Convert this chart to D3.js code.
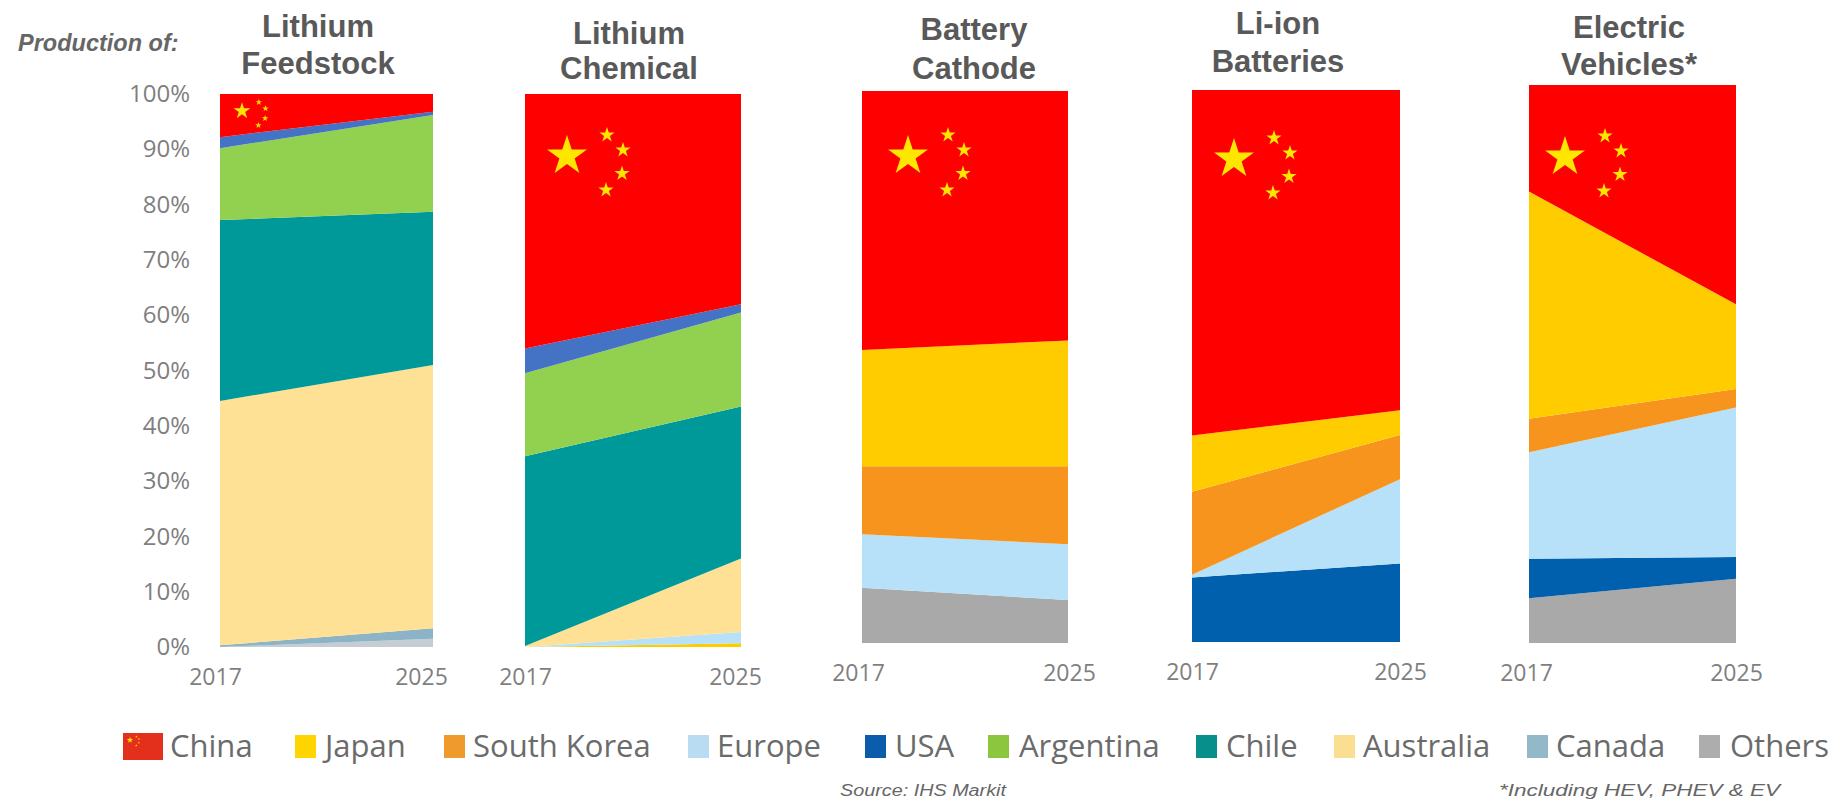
<!DOCTYPE html>
<html>
<head>
<meta charset="utf-8">
<title>Production share by country</title>
<script src="https://cdn.jsdelivr.net/npm/d3@7"></script>
<style>
  html, body { margin: 0; padding: 0; background: #fff; }
  svg { display: block; }
  text { font-family: "Open Sans", sans-serif; }
  .panel-title { font-family: "Liberation Sans", Arial, sans-serif; font-weight: 700; font-size: 31px; fill: #595959; text-anchor: middle; }
  .axis text { font-size: 23px; fill: #7f7f7f; }
  .axis.percent text { font-size: 24px; }
  .legend-label { font-size: 31px; fill: #6b6b6b; }
  .note { font-family: "Liberation Sans", Arial, sans-serif; font-style: italic; fill: #666; }
</style>
</head>
<body>
<svg id="chart" width="1834" height="801"></svg>
<script>
// Data: share of production (%) by country, from the bottom of each stack upward
const years = ["2017", "2025"];
const percentTicks = [0, 10, 20, 30, 40, 50, 60, 70, 80, 90, 100];

const feedstockKeys = ["Minor", "Canada", "Australia", "Chile", "Argentina", "Rest", "China"];
const feedstock2017 = [0, 0.3, 44.2, 32.7, 13, 2, 7.8];
const feedstock2025 = [1.5, 1.9, 47.6, 27.7, 17.5, 0.6, 3.2];

const chemicalKeys = ["Japan", "Europe", "Australia", "Chile", "Argentina", "Rest", "China"];
const chemical2017 = [0, 0, 0.2, 34.3, 15, 4.5, 46];
const chemical2025 = [0.7, 2, 13.3, 27.5, 17, 1.5, 38];

const cathodeKeys = ["Others", "Europe", "South Korea", "Japan", "China"];
const cathode2017 = [10, 9.7, 12.3, 21.1, 46.9];
const cathode2025 = [7.8, 10.1, 14.1, 22.8, 45.2];

const batteryKeys = ["USA", "Europe", "South Korea", "Japan", "China"];
const battery2017 = [11.7, 0.5, 15, 10.2, 62.6];
const battery2025 = [14.2, 15.3, 8, 4.5, 58];

const vehicleKeys = ["Others", "USA", "Europe", "South Korea", "Japan", "China"];
const vehicle2017 = [8, 7.1, 19.1, 6, 40.7, 19.1];
const vehicle2025 = [11.5, 3.9, 26.8, 3.3, 15.2, 39.3];

const legendNames = ["China", "Japan", "South Korea", "Europe", "USA", "Argentina", "Chile", "Australia", "Canada", "Others"];
const legendColors = ["#e2301c", "#ffd400", "#ee9a2c", "#b9dcf2", "#0b5cab", "#8cc63f", "#078f8c", "#fbdf90", "#93b8c8", "#adadad"];

const areaColor = d3.scaleOrdinal()
  .domain(["China", "Japan", "South Korea", "Europe", "USA", "Argentina", "Chile", "Australia", "Canada", "Others", "Rest", "Minor"])
  .range(["#ff0000", "#ffcc00", "#f7941d", "#b7e1f9", "#0060ae", "#92d14f", "#009999", "#ffe195", "#8db4c6", "#a9a9a9", "#4472c4", "#c5cdd3"]);

// Layout of the five panels
const panels = [
  { title: ["Lithium", "Feedstock"], keys: feedstockKeys, a: feedstock2017, b: feedstock2025,
    x: [220, 433], y: [647, 94], labelX: [215, 421], titleX: 318, titleY: [26, 63],
    star: [242, 111], starScale: 0.42, showY: true },
  { title: ["Lithium", "Chemical"], keys: chemicalKeys, a: chemical2017, b: chemical2025,
    x: [525, 741], y: [647, 94], labelX: [525, 735], titleX: 629, titleY: [33, 68],
    star: [567, 156], starScale: 1 },
  { title: ["Battery", "Cathode"], keys: cathodeKeys, a: cathode2017, b: cathode2025,
    x: [862, 1068], y: [643, 91], labelX: [858, 1069], titleX: 974, titleY: [29, 68],
    star: [908, 156], starScale: 1 },
  { title: ["Li-ion", "Batteries"], keys: batteryKeys, a: battery2017, b: battery2025,
    x: [1192, 1400], y: [642, 90], labelX: [1192, 1400], titleX: 1278, titleY: [23, 61],
    star: [1234, 159], starScale: 1 },
  { title: ["Electric", "Vehicles*"], keys: vehicleKeys, a: vehicle2017, b: vehicle2025,
    x: [1529, 1736], y: [643, 85], labelX: [1526, 1736], titleX: 1629, titleY: [27, 64],
    star: [1565, 157], starScale: 1 }
];

const smallStarOffsets = [[40, -21], [56, -6], [55, 17.5], [39, 34]];
const starColor = "#ffe600";

const svg = d3.select("#chart");

// Draws the national flag's stars around a main star centre
function drawStars(g, cx, cy, scale) {
  const star = r => d3.symbol(d3.symbolStar, (r * r) / 0.8908130915)();
  g.append("path").attr("d", star(21 * scale))
    .attr("transform", `translate(${cx},${cy})`).attr("fill", starColor);
  g.selectAll(null).data(smallStarOffsets).join("path")
    .attr("d", star(8 * scale))
    .attr("transform", d => `translate(${cx + d[0] * scale},${cy + d[1] * scale})`)
    .attr("fill", starColor);
}

panels.forEach(p => {
  const g = svg.append("g");
  const rows = [p.a, p.b].map((vals, i) => {
    const row = { year: years[i] };
    p.keys.forEach((k, j) => { row[k] = vals[j]; });
    return row;
  });
  const x = d3.scalePoint().domain(years).range(p.x);
  const y = d3.scaleLinear().domain([0, 100]).range(p.y);
  const area = d3.area().x(d => x(d.data.year)).y0(d => y(d[0])).y1(d => y(d[1]));

  g.selectAll("path.layer").data(d3.stack().keys(p.keys)(rows)).join("path")
    .attr("class", "layer")
    .attr("d", area)
    .attr("fill", d => areaColor(d.key));

  drawStars(g, p.star[0], p.star[1], p.starScale);

  // Year labels sit slightly off the stack edges, so they get their own scale
  const labelScale = d3.scalePoint().domain(years).range(p.labelX);
  const xAxis = g.append("g").attr("class", "axis")
    .attr("transform", `translate(0,${p.y[0] + 14})`)
    .call(d3.axisBottom(labelScale).tickSize(0).tickPadding(8));
  xAxis.select(".domain").remove();

  if (p.showY) {
    const yAxis = g.append("g").attr("class", "axis percent")
      .attr("transform", `translate(${p.x[0] - 30},0)`)
      .call(d3.axisLeft(y).tickValues(percentTicks).tickFormat(d => d + "%").tickSize(0).tickPadding(0));
    yAxis.select(".domain").remove();
  }

  p.title.forEach((line, i) => {
    g.append("text").attr("class", "panel-title")
      .attr("x", p.titleX).attr("y", p.titleY[i]).attr("dy", "0.36em").text(line);
  });
});

// Legend
const legendSwatchX = [123, 295, 444, 688, 865, 988, 1196, 1334, 1527, 1699];
const legendTextX = [170, 325, 473, 717, 895, 1019, 1226, 1363, 1556, 1730];
const legend = svg.append("g");
legendNames.forEach((name, i) => {
  const isFlag = i === 0;
  legend.append("rect")
    .attr("x", legendSwatchX[i]).attr("y", isFlag ? 733 : 735)
    .attr("width", isFlag ? 40 : 21).attr("height", isFlag ? 27 : 23)
    .attr("fill", legendColors[i]);
  legend.append("text").attr("class", "legend-label")
    .attr("x", legendTextX[i]).attr("y", 746).attr("dy", "0.36em").text(name);
});
drawStars(legend, 130, 740, 0.16);

// Notes; the footers are stretched to width so they stay short enough for the bottom edge
svg.append("text").attr("class", "note")
  .attr("x", 18).attr("y", 43).attr("dy", "0.36em")
  .style("font-weight", 700).style("font-size", "23.5px").text("Production of:");
svg.append("text").attr("class", "note")
  .attr("x", 840).attr("y", 796)
  .attr("textLength", 166).attr("lengthAdjust", "spacingAndGlyphs")
  .style("font-size", "16px").text("Source: IHS Markit");
svg.append("text").attr("class", "note")
  .attr("x", 1499).attr("y", 796)
  .attr("textLength", 281).attr("lengthAdjust", "spacingAndGlyphs")
  .style("font-size", "16px").text("*Including HEV, PHEV & EV");
</script>
</body>
</html>
